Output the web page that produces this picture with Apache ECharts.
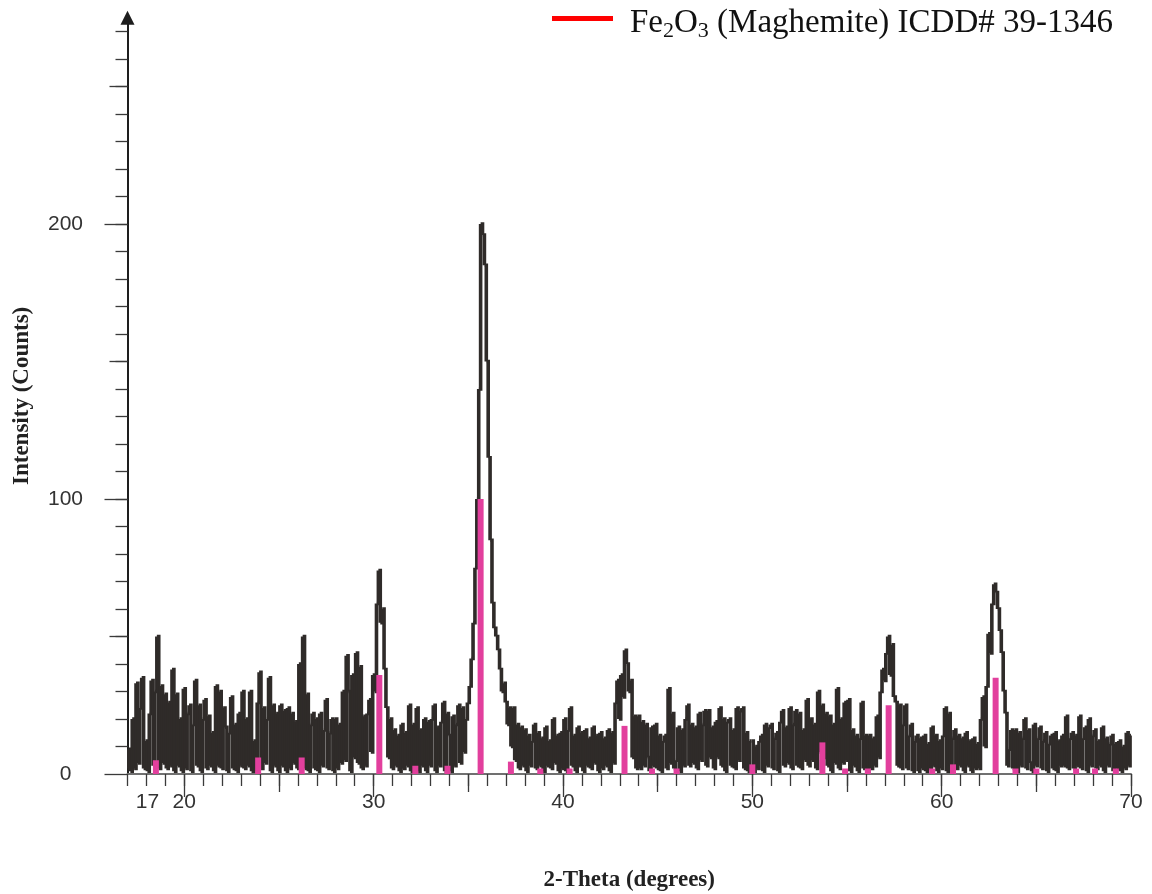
<!DOCTYPE html>
<html>
<head>
<meta charset="utf-8">
<script src="https://cdn.jsdelivr.net/npm/echarts@6/dist/echarts.min.js"></script>
<style>
html,body{margin:0;padding:0;background:#fff;}
#chart{width:1152px;height:894px;}
</style>
</head>
<body>
<div id="chart"></div>
<script>
// 2-theta sampling grid of the measured pattern (degrees)
const startAngle = 17.0;
const stepAngle = 0.1;

// Measured intensity (counts), one value per 0.1 degree from 17.0 to 70.0
const counts = [
  2, 9, 1, 20, 2, 33, 4, 24, 35, 2,         // 17
  12, 1, 22, 34, 3, 30, 50, 2, 32, 4,       // 18
  29, 2, 26, 3, 38, 1, 29, 3, 20, 1,        // 19
  31, 2, 22, 25, 1, 18, 34, 3, 25, 1,       // 20
  20, 27, 2, 21, 3, 15, 1, 32, 3, 30,       // 21
  2, 24, 17, 1, 15, 28, 2, 18, 1, 22,       // 22
  3, 30, 2, 20, 3, 30, 1, 12, 1, 26,        // 23
  37, 2, 24, 4, 20, 35, 1, 25, 3, 22,       // 24
  1, 25, 3, 23, 1, 24, 2, 22, 4, 19,        // 25
  2, 40, 5, 50, 2, 29, 1, 18, 22, 2,        // 26
  20, 1, 22, 3, 16, 27, 2, 15, 20, 1,       // 27
  20, 2, 18, 4, 30, 5, 43, 30, 1, 36,       // 28
  6, 44, 4, 39, 2, 21, 3, 22, 27, 8,        // 29
  36, 30, 62, 74, 55, 60, 38, 24, 6, 20,    // 30
  2, 16, 3, 14, 1, 18, 2, 15, 3, 25,        // 31
  1, 18, 2, 24, 1, 16, 3, 20, 1, 19,        // 32
  3, 20, 25, 1, 17, 3, 19, 26, 1, 22,       // 33
  14, 1, 21, 3, 18, 25, 4, 24, 8, 20,       // 34
  26, 32, 42, 55, 75, 100, 140, 200, 196, 185, // 35
  150, 115, 85, 62, 53, 50, 45, 38, 30, 33, // 36
  26, 18, 24, 10, 24, 5, 18, 2, 17, 3,      // 37
  16, 1, 14, 3, 12, 18, 2, 15, 3, 13,       // 38
  1, 17, 3, 12, 2, 20, 4, 14, 1, 15,        // 39
  2, 20, 1, 16, 24, 3, 14, 1, 17, 3,        // 40
  15, 1, 16, 3, 13, 2, 17, 4, 14, 1,        // 41
  15, 2, 13, 3, 16, 1, 15, 4, 26, 34,       // 42
  20, 36, 28, 45, 40, 30, 34, 6, 21, 2,     // 43
  21, 2, 19, 3, 18, 6, 1, 17, 3, 18,        // 44
  2, 14, 1, 12, 14, 2, 31, 4, 22, 2,        // 45
  5, 17, 1, 16, 3, 20, 25, 3, 18, 4,        // 46
  17, 2, 22, 5, 18, 23, 3, 23, 6, 17,       // 47
  2, 19, 6, 24, 3, 20, 1, 19, 20, 3,        // 48
  16, 2, 24, 5, 23, 24, 2, 15, 1, 12,       // 49
  12, 1, 10, 2, 12, 14, 1, 18, 3, 17,       // 50
  18, 2, 13, 15, 1, 19, 23, 3, 17, 4,       // 51
  24, 2, 18, 23, 3, 22, 2, 16, 5, 27,       // 52
  3, 20, 5, 18, 2, 30, 8, 25, 6, 22,        // 53
  3, 21, 1, 18, 4, 31, 2, 20, 4, 26,        // 54
  5, 27, 1, 16, 3, 14, 1, 13, 26, 2,        // 55
  14, 1, 14, 2, 13, 3, 21, 6, 30, 38,       // 56
  34, 44, 50, 36, 47, 28, 26, 3, 25, 2,     // 57
  18, 25, 2, 14, 18, 1, 12, 14, 1, 13,      // 58
  2, 14, 1, 11, 2, 17, 3, 14, 1, 12,        // 59
  2, 14, 24, 1, 22, 3, 13, 16, 2, 14,       // 60
  3, 13, 1, 15, 3, 12, 1, 13, 2, 11,        // 61
  2, 20, 28, 10, 32, 51, 44, 62, 69, 66,    // 62
  60, 52, 44, 30, 22, 3, 9, 16, 2, 16,      // 63
  1, 15, 3, 13, 20, 2, 16, 4, 1, 18,        // 64
  3, 13, 17, 2, 12, 15, 1, 11, 14, 2,       // 65
  15, 1, 12, 3, 14, 3, 21, 2, 13, 15,       // 66
  2, 14, 3, 21, 2, 13, 17, 1, 20, 3,        // 67
  14, 16, 2, 12, 3, 17, 1, 13, 3, 11,       // 68
  14, 1, 11, 2, 12, 1, 10, 2, 15, 3,        // 69
  14                                        // 70
];

// Reference stick pattern (ICDD 39-1346)
const refPositions   = [18.5, 23.9, 26.2, 30.3, 32.2, 33.9, 35.65, 37.25, 38.8, 40.35, 43.25, 44.7, 46.0, 50.0, 53.7, 54.9, 56.1, 57.2, 59.5, 60.6, 62.85, 63.9, 65.0, 67.1, 68.1, 69.2];
const refIntensities = [5, 6, 6, 36, 3, 3, 100, 4.5, 2, 2, 17.5, 2, 2, 3.5, 11.5, 2, 2, 25, 2, 3.5, 35, 2, 2, 2, 2, 2];

const legendName = 'Fe2O3 (Maghemite) ICDD# 39-1346';
const xLabelValues = [17, 20, 30, 40, 50, 60, 70];
const yLabelValues = [0, 100, 200];
const xTicksMajor = [20, 30, 40, 50, 60, 70];
const xTicksMid = [25, 35, 45, 55, 65];
const yTicksMid = [50, 150, 250];

const xTicksMinor = [];
for (let v = 17; v <= 70; v++) xTicksMinor.push(v);
const yTicksMinor = [];
for (let v = 10; v <= 270; v += 10) yTicksMinor.push(v);

const traceData = counts.map((c, i) => [+(startAngle + i * stepAngle).toFixed(2), c]);
const refData = refPositions.map((p, i) => [p, refIntensities[i]]);

const traceColor = '#2f2b29';
const tickColor = '#3a3a3a';
const xBase = { type: 'value', min: 17, max: 70, position: 'bottom', splitLine: { show: false } };
const yBase = { type: 'value', min: 0, max: 275, position: 'left', splitLine: { show: false } };

// Step-style trace: each sample is a short horizontal run joined to the next sample by a vertical stroke
function renderTrace(params, api) {
  const i = params.dataIndex;
  const x = api.value(0);
  const y = api.value(1);
  const half = stepAngle / 2;
  const left = i === 0 ? x : x - half;
  const right = i === counts.length - 1 ? x : x + half;
  const pts = [api.coord([left, y]), api.coord([right, y])];
  if (i + 1 < counts.length) pts.push(api.coord([right, counts[i + 1]]));
  return {
    type: 'polyline',
    shape: { points: pts },
    style: { stroke: traceColor, lineWidth: 3.6, fill: null, lineJoin: 'miter', lineCap: 'butt' }
  };
}

const chart = echarts.init(document.getElementById('chart'), null, { renderer: 'canvas' });
chart.setOption({
  animation: false,
  backgroundColor: '#ffffff',
  grid: { left: 127.5, right: 21, top: 17.75, bottom: 120, containLabel: false, outerBoundsMode: 'none' },
  legend: {
    left: 552, top: 7, padding: 0,
    itemWidth: 61, itemHeight: 5,
    selectedMode: false,
    data: [{ name: legendName, icon: 'rect', itemStyle: { color: '#ff0000' } }],
    formatter: function () {
      return '{a|Fe}{s|2}{a|O}{s|3}{a| (Maghemite) ICDD# 39-1346}';
    },
    textStyle: {
      padding: [10, 0, 0, 12],
      rich: {
        a: { fontFamily: 'Liberation Serif', fontSize: 33, color: '#111', lineHeight: 38 },
        s: { fontFamily: 'Liberation Serif', fontSize: 22, color: '#111', lineHeight: 26, verticalAlign: 'bottom' }
      }
    }
  },
  xAxis: [
    Object.assign({}, xBase, {
      axisLine: { show: true, lineStyle: { color: '#707070', width: 2 } },
      axisTick: { show: true, customValues: xTicksMajor, length: 23, lineStyle: { color: tickColor, width: 1.3 } },
      axisLabel: {
        show: true, customValues: xLabelValues, margin: 18,
        fontFamily: 'Liberation Sans', fontSize: 21, color: '#333',
        formatter: function (v) { return v === 17 ? '{o|17}' : String(v); },
        rich: { o: { fontFamily: 'Liberation Sans', fontSize: 21, color: '#333', padding: [0, 0, 0, 40] } }
      },
      name: '2-Theta (degrees)', nameLocation: 'middle', nameGap: 95,
      nameTextStyle: { fontFamily: 'Liberation Serif', fontWeight: 'bold', fontSize: 23, color: '#222' }
    }),
    Object.assign({}, xBase, {
      axisLine: { show: false },
      axisTick: { show: true, customValues: xTicksMid, length: 18, lineStyle: { color: tickColor, width: 1.3 } },
      axisLabel: { show: false }
    }),
    Object.assign({}, xBase, {
      axisLine: { show: false },
      axisTick: { show: true, customValues: xTicksMinor, length: 12, lineStyle: { color: tickColor, width: 1.3 } },
      axisLabel: { show: false }
    })
  ],
  yAxis: [
    Object.assign({}, yBase, {
      axisLine: { show: true, symbol: ['none', 'triangle'], symbolSize: [14, 14], lineStyle: { color: '#1e1e1e', width: 2 } },
      axisTick: { show: true, customValues: yLabelValues, length: 23, lineStyle: { color: tickColor, width: 1.3 } },
      axisLabel: { show: true, customValues: yLabelValues, align: 'center', margin: 62, fontFamily: 'Liberation Sans', fontSize: 21, color: '#333' },
      name: 'Intensity (Counts)', nameLocation: 'middle', nameGap: 94,
      nameTextStyle: { fontFamily: 'Liberation Serif', fontWeight: 'bold', fontSize: 23, color: '#222' }
    }),
    Object.assign({}, yBase, {
      axisLine: { show: false },
      axisTick: { show: true, customValues: yTicksMid, length: 18, lineStyle: { color: tickColor, width: 1.3 } },
      axisLabel: { show: false }
    }),
    Object.assign({}, yBase, {
      axisLine: { show: false },
      axisTick: { show: true, customValues: yTicksMinor, length: 12, lineStyle: { color: tickColor, width: 1.3 } },
      axisLabel: { show: false }
    })
  ],
  series: [
    {
      name: 'pattern', type: 'custom', xAxisIndex: 0, yAxisIndex: 0,
      data: traceData, encode: { x: 0, y: 1 }, silent: true, clip: true,
      renderItem: renderTrace, z: 2
    },
    {
      name: legendName, type: 'bar', xAxisIndex: 0, yAxisIndex: 0,
      data: refData, barWidth: 6, silent: true,
      itemStyle: { color: '#e23f9d' }, z: 3
    }
  ]
});
</script>
</body>
</html>
